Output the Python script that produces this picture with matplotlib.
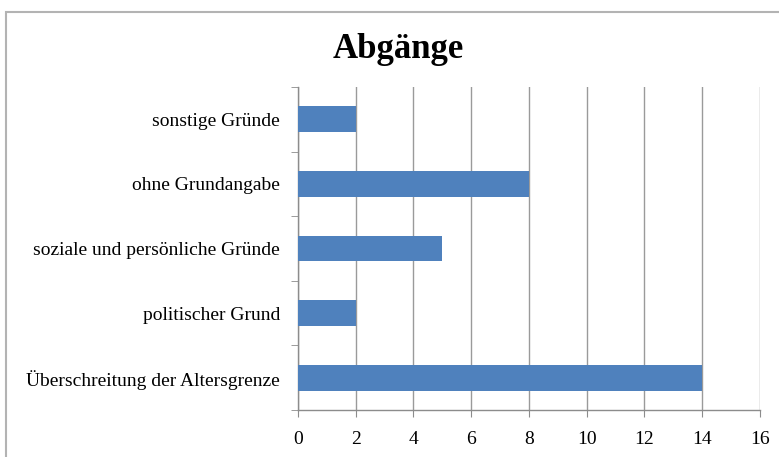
import matplotlib.pyplot as plt
from matplotlib.patches import Rectangle
from matplotlib.ticker import MultipleLocator, FixedLocator

plt.rcParams['font.family'] = ['Liberation Serif', 'DejaVu Serif']

kategorien = ["Überschreitung der Altersgrenze", "politischer Grund",
              "soziale und persönliche Gründe", "ohne Grundangabe", "sonstige Gründe"]
anzahl = [14, 2, 5, 8, 2]

fig = plt.figure(figsize=(7.79, 4.57), dpi=100)
ax = fig.add_axes([0.3825, 0.1028, 0.5931, 0.7068])

# Rahmen um das ganze Diagramm
fig.patches.append(Rectangle((6 / 779, -0.05), 1.2, 1 - 12 / 457 + 0.05,
                             transform=fig.transFigure, fill=False,
                             edgecolor='#b3b3b3', linewidth=1.5))

y = range(len(kategorien))
ax.barh(y, anzahl, height=0.4, color='#4f81bd', zorder=3)

ax.set_xlim(0, 16)
ax.set_ylim(-0.5, len(kategorien) - 0.5)
ax.xaxis.set_major_locator(MultipleLocator(2))
ax.set_yticks(list(y))
ax.set_yticklabels(kategorien)
ax.yaxis.set_minor_locator(FixedLocator([i - 0.5 for i in range(len(kategorien) + 1)]))

ax.grid(axis='x', color='#9a9a9a', linewidth=1, zorder=0)
for s in ['top', 'right']:
    ax.spines[s].set_visible(False)
for s in ['left', 'bottom']:
    ax.spines[s].set_color('#8c8c8c')
    ax.spines[s].set_linewidth(1)

ax.tick_params(axis='y', which='major', length=0, pad=13, labelsize=14)
ax.tick_params(axis='y', which='minor', length=5, color='#8c8c8c')
ax.tick_params(axis='x', length=5, color='#8c8c8c', pad=10, labelsize=14)

fig.text(398 / 779, 1 - 49 / 457, "Abgänge", ha='center', va='center',
         fontsize=25, fontweight='bold')

fig.savefig('out.png', dpi=100)
